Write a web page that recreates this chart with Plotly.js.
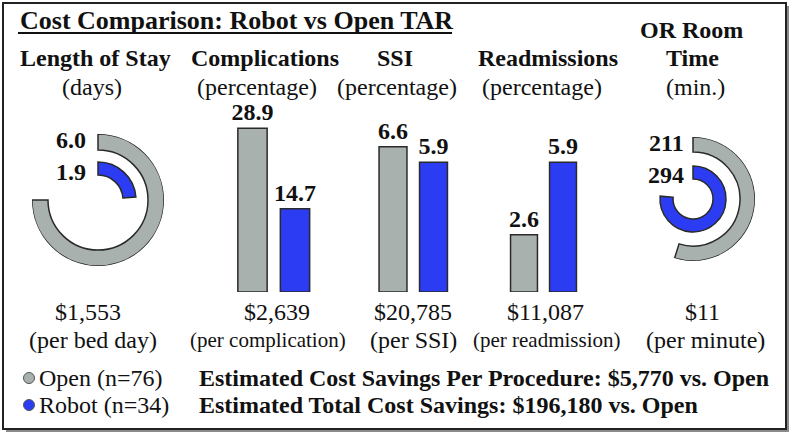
<!DOCTYPE html>
<html>
<head>
<meta charset="utf-8">
<script src="https://cdn.plot.ly/plotly-3.0.1.min.js"></script>
<style>
  body { margin: 0; background: #fff; }
  #chart { width: 793px; height: 436px; }
</style>
</head>
<body>
<div id="chart"></div>
<script>
// DATA
const groups = ['Open', 'Robot'];
const legendLabels = ['Open (n=76)', 'Robot (n=34)'];
const losDays = [6.0, 1.9];
const complicationsPct = [28.9, 14.7];
const ssiPct = [6.6, 5.9];
const readmissionsPct = [2.6, 5.9];
const orMinutes = [211, 294];
const unitCosts = ['$1,553', '$2,639', '$20,785', '$11,087', '$11'];
const costBasis = ['(per bed day)', '(per complication)', '(per SSI)', '(per readmission)', '(per minute)'];
const savingsLines = [
  'Estimated Cost Savings Per Procedure: $5,770 vs. Open',
  'Estimated Total Cost Savings: $196,180 vs. Open'
];

// PAGE GEOMETRY HELPERS
const W = 793, H = 436;
const FONT = '"Liberation Serif", "Times New Roman", serif';
const GREY = '#a9b1af', BLUE = '#2b3cf2', EDGE = '#2a2a2a', INK = '#111';
const px = x => x / W;
const py = y => 1 - y / H;

// bar panel: two bars on their own axis pair
function barTrace(vals, n) {
  return {
    type: 'bar', x: groups, y: vals,
    xaxis: 'x' + n, yaxis: 'y' + n,
    marker: { color: [GREY, BLUE], line: { color: EDGE, width: 1.5 } },
    texttemplate: '<b>%{y:.1f}</b>', textposition: 'outside',
    constraintext: 'none',
    textfont: { family: FONT, size: 24, color: INK },
    cliponaxis: false, hoverinfo: 'none', showlegend: false
  };
}

// ring panel: value -> arc length clockwise from 12 o'clock
function ringTrace(vals, fullTurn, subplot, bases, thick) {
  const ang = vals.map(v => v / fullTurn * 360);
  return {
    type: 'barpolar', subplot: subplot,
    theta: ang.map(a => a / 2), width: ang,
    base: bases, r: thick,
    marker: { color: [GREY, BLUE], line: { color: EDGE, width: 1.5 } },
    hoverinfo: 'none', showlegend: false
  };
}

const traces = [
  ringTrace(losDays, 8, 'polar', [50, 25], [16, 13]),
  barTrace(complicationsPct, ''),
  barTrace(ssiPct, 2),
  barTrace(readmissionsPct, 3),
  ringTrace(orMinutes, 385, 'polar2', [47, 20], [15, 13])
];

const layout = {
  width: W, height: H,
  margin: { l: 0, r: 0, t: 0, b: 0 },
  paper_bgcolor: '#fff', plot_bgcolor: 'rgba(0,0,0,0)',
  bargap: 0.31,
  font: { family: FONT, size: 24, color: INK },
  annotations: [], shapes: []
};

function barAxes(n, x0, x1, yTop, yMax) {
  layout['xaxis' + n] = { domain: [px(x0), px(x1)], range: [-0.5, 1.5], visible: false, fixedrange: true };
  layout['yaxis' + n] = { domain: [py(292), py(yTop)], range: [0, yMax], visible: false, fixedrange: true };
}
barAxes('', 231.25, 316.25, 100, 192 / 5.67);
barAxes(2, 372.75, 453.75, 100, 192 / 22);
barAxes(3, 504.5, 582.5, 100, 192 / 22);

function polarBox(cx, cy, rad) {
  return {
    domain: { x: [px(cx - rad), px(cx + rad)], y: [py(cy + rad), py(cy - rad)] },
    bgcolor: 'rgba(0,0,0,0)', barmode: 'overlay',
    radialaxis: { range: [0, rad], visible: false },
    angularaxis: { rotation: 90, direction: 'clockwise', visible: false }
  };
}
layout.polar = polarBox(98, 200, 66);
layout.polar2 = polarBox(693, 199, 62);

// TEXT
function txt(x, y, text, opt = {}) {
  layout.annotations.push(Object.assign({
    xref: 'paper', yref: 'paper', x: px(x), y: py(y), text: text,
    showarrow: false, xanchor: 'center', yanchor: 'middle',
    font: { family: FONT, size: opt.size || 24, color: INK }
  }, opt.extra || {}));
}

txt(18, 21, '<b>Cost Comparison: Robot vs Open TAR</b>', { size: 26, extra: { xanchor: 'left' } });

// panel headers
txt(95, 58, '<b>Length of Stay</b>');
txt(92, 87, '(days)');
txt(265, 58, '<b>Complications</b>');
txt(257, 87, '(percentage)');
txt(395, 58, '<b>SSI</b>');
txt(397, 87, '(percentage)');
txt(548, 58, '<b>Readmissions</b>');
txt(542, 87, '(percentage)');
txt(691, 30, '<b>OR Room</b>');
txt(692, 58, '<b>Time</b>');
txt(695, 87, '(min.)');

// ring values
txt(88, 140, '<b>' + losDays[0].toFixed(1) + '</b>', { extra: { xanchor: 'right' } });
txt(88, 172, '<b>' + losDays[1].toFixed(1) + '</b>', { extra: { xanchor: 'right' } });
txt(686, 143, '<b>' + orMinutes[0] + '</b>', { extra: { xanchor: 'right' } });
txt(686, 175, '<b>' + orMinutes[1] + '</b>', { extra: { xanchor: 'right' } });

// unit costs
const costX = [88, 277, 413, 545, 702];
const basisX = [93, 268, 413, 547, 705];
const basisSize = [24, 21, 24, 21, 24];
unitCosts.forEach((c, i) => txt(costX[i], 312, c));
costBasis.forEach((c, i) => txt(basisX[i], 340, c, { size: basisSize[i] }));

// legend
const legendY = [378, 405];
[GREY, BLUE].forEach((col, i) => {
  layout.shapes.push({
    type: 'circle', xref: 'paper', yref: 'paper',
    x0: px(23.5), x1: px(34.5), y0: py(legendY[i] + 5.5), y1: py(legendY[i] - 5.5),
    fillcolor: col, line: { color: '#555', width: 1 }
  });
  txt(37, legendY[i], legendLabels[i], { extra: { xanchor: 'left' } });
});
savingsLines.forEach((s, i) => txt(197, legendY[i], '<b>' + s + '</b>', { extra: { xanchor: 'left' } }));

// frame, shadow, title underline
layout.shapes.unshift(
  { type: 'rect', xref: 'paper', yref: 'paper', x0: px(6), x1: px(789), y0: py(432), y1: py(6),
    fillcolor: '#8a8a8a', line: { width: 0 }, layer: 'below' },
  { type: 'rect', xref: 'paper', yref: 'paper', x0: px(3), x1: px(786), y0: py(429), y1: py(3),
    fillcolor: '#fff', line: { color: '#222', width: 2 }, layer: 'below' }
);
layout.shapes.push({ type: 'line', xref: 'paper', yref: 'paper',
  x0: px(18), x1: px(452), y0: py(33), y1: py(33), line: { color: INK, width: 2 } });

Plotly.newPlot('chart', traces, layout, { staticPlot: true });
</script>
</body>
</html>
